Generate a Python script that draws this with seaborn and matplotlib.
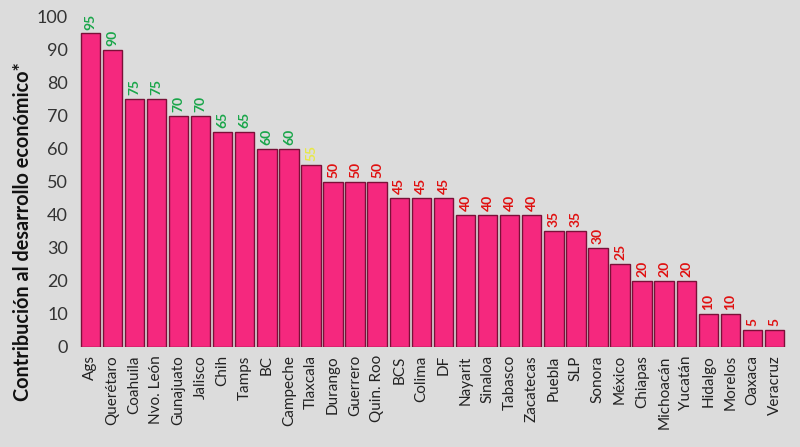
import matplotlib
matplotlib.use("Agg")
import matplotlib.pyplot as plt
import seaborn as sns
import pandas as pd

states = ["Ags", "Querétaro", "Coahuila", "Nvo. León", "Gunajuato", "Jalisco", "Chih", "Tamps",
          "BC", "Campeche", "Tlaxcala", "Durango", "Guerrero", "Quin. Roo", "BCS", "Colima",
          "DF", "Nayarit", "Sinaloa", "Tabasco", "Zacatecas", "Puebla", "SLP", "Sonora",
          "México", "Chiapas", "Michoacán", "Yucatán", "Hidalgo", "Morelos", "Oaxaca", "Veracruz"]
values = [95, 90, 75, 75, 70, 70, 65, 65, 60, 60, 55, 50, 50, 50, 45, 45,
          45, 40, 40, 40, 40, 35, 35, 30, 25, 20, 20, 20, 10, 10, 5, 5]

df = pd.DataFrame({"estado": states, "valor": values})

sns.set_theme(style="white")
plt.rcParams['font.family'] = ['Lato', 'DejaVu Sans']

fig = plt.figure(figsize=(8, 4.47), dpi=100)
fig.patch.set_facecolor("#dcdcdc")
ax = fig.add_axes([0.099, 0.224, 0.883, 0.738])
ax.set_facecolor("#dcdcdc")

sns.barplot(data=df, x="estado", y="valor", color="#f5287e", edgecolor="#7a1038",
            linewidth=1.0, width=0.88, saturation=1, ax=ax)

def lab_color(v):
    if v >= 60:
        return "#1aa64a"
    if v >= 55:
        return "#e8e84a"
    return "#e01010"

for p, v in zip(ax.patches, values):
    ax.text(p.get_x() + p.get_width() / 2, v + 1.2, str(v), rotation=90, ha="center",
            va="bottom", fontsize=10, fontweight="bold", color=lab_color(v))

ax.set_ylim(0, 100)
ax.set_xlim(-0.5, len(states) - 0.5)
ax.set_yticks(range(0, 101, 10))
ax.tick_params(axis="y", labelsize=13, colors="#333333", length=0, pad=8)
ax.tick_params(axis="x", labelsize=11, colors="#222222", length=0, pad=6)
ax.set_xticks(range(len(states)))
ax.set_xticklabels(states, rotation=90)
ax.set_xlabel("")
ax.set_ylabel("Contribución al desarrollo económico*", fontsize=14.3, fontweight="bold",
              color="#111111")
ax.yaxis.set_label_coords(-0.066, 0.35)
for s in ax.spines.values():
    s.set_visible(False)

fig.savefig("out.png", dpi=100, facecolor=fig.get_facecolor())
